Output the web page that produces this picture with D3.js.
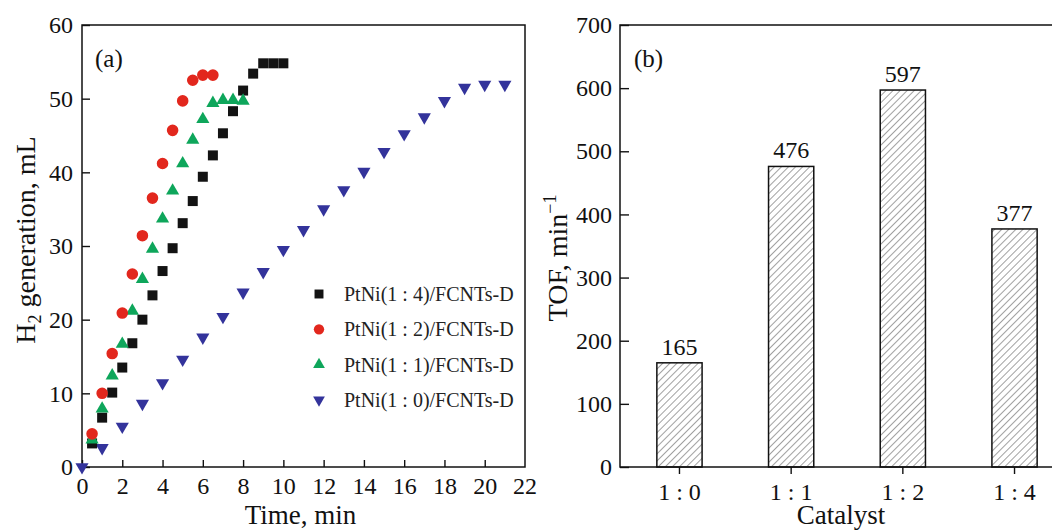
<!DOCTYPE html>
<html>
<head>
<meta charset="utf-8">
<script src="https://cdn.jsdelivr.net/npm/d3@7"></script>
<style>
  body { margin: 0; background: #fff; }
  svg { display: block; font-family: "Liberation Serif", "Times New Roman", serif; }
</style>
</head>
<body>
<svg id="chart" width="1052" height="531"></svg>
<script>
// ---- data ----
// (a) H2 generation vs time
const seriesNames = ['PtNi(1 : 4)/FCNTs-D', 'PtNi(1 : 2)/FCNTs-D', 'PtNi(1 : 1)/FCNTs-D', 'PtNi(1 : 0)/FCNTs-D'];

const timePtNi14 = [0.5, 1, 1.5, 2, 2.5, 3, 3.5, 4, 4.5, 5, 5.5, 6, 6.5, 7, 7.5, 8, 8.5, 9, 9.5, 10];
const h2PtNi14 = [3.2, 6.7, 10.1, 13.5, 16.8, 20.0, 23.3, 26.6, 29.7, 33.1, 36.1, 39.4, 42.3, 45.3, 48.3, 51.1, 53.4, 54.8, 54.8, 54.8];

const timePtNi12 = [0.5, 1, 1.5, 2, 2.5, 3, 3.5, 4, 4.5, 5, 5.5, 6, 6.5];
const h2PtNi12 = [4.5, 10.0, 15.4, 20.9, 26.2, 31.4, 36.5, 41.2, 45.7, 49.7, 52.5, 53.2, 53.2];

const timePtNi11 = [0.5, 1, 1.5, 2, 2.5, 3, 3.5, 4, 4.5, 5, 5.5, 6, 6.5, 7, 7.5, 8];
const h2PtNi11 = [3.7, 7.9, 12.4, 16.7, 21.2, 25.5, 29.6, 33.7, 37.5, 41.2, 44.4, 47.2, 49.4, 49.8, 49.8, 49.7];

const timePtNi10 = [0, 1, 2, 3, 4, 5, 6, 7, 8, 9, 10, 11, 12, 13, 14, 15, 16, 17, 18, 19, 20, 21];
const h2PtNi10 = [0, 2.6, 5.5, 8.6, 11.4, 14.6, 17.6, 20.4, 23.7, 26.5, 29.5, 32.2, 35.0, 37.6, 40.1, 42.8, 45.2, 47.5, 49.7, 51.5, 51.9, 51.9];

const xTicksA = [0, 2, 4, 6, 8, 10, 12, 14, 16, 18, 20, 22];
const yTicksA = [0, 10, 20, 30, 40, 50, 60];

// (b) TOF per catalyst
const catalysts = ['1 : 0', '1 : 1', '1 : 2', '1 : 4'];
const tofValues = [165, 476, 597, 377];
const yTicksB = [0, 100, 200, 300, 400, 500, 600, 700];

// ---- drawing ----
const svg = d3.select('#chart');
const tickFont = 24;

// hatch pattern for the bars
svg.append('defs').append('pattern')
  .attr('id', 'hatch')
  .attr('patternUnits', 'userSpaceOnUse')
  .attr('width', 5)
  .attr('height', 5)
  .attr('patternTransform', 'rotate(45)')
  .append('line')
  .attr('x1', 0).attr('y1', 0)
  .attr('x2', 0).attr('y2', 5)
  .attr('stroke', '#444')
  .attr('stroke-width', 1);

function styleAxis(g) {
  g.select('.domain').remove();
  g.selectAll('line').attr('stroke', '#111').attr('stroke-width', 1.4);
  g.selectAll('text')
    .attr('fill', '#111')
    .style('font-family', '"Liberation Serif", "Times New Roman", serif')
    .style('font-size', tickFont + 'px');
}

// ===== panel (a) =====
const a = { left: 82, right: 525, top: 25, bottom: 467 };

const xA = d3.scaleLinear().domain([0, 22]).range([a.left, a.right]);
const yA = d3.scaleLinear().domain([0, 60]).range([a.bottom, a.top]);

svg.append('g')
  .attr('transform', `translate(0,${a.bottom})`)
  .call(d3.axisBottom(xA).tickValues(xTicksA.slice(0, -1)).tickSizeInner(-7).tickSizeOuter(0).tickPadding(10))
  .call(styleAxis);

// the last "22" label sits on the right border, no tick there
svg.append('text')
  .attr('x', xA(22)).attr('y', a.bottom + 10).attr('dy', '0.71em')
  .attr('text-anchor', 'middle')
  .style('font-size', tickFont + 'px').attr('fill', '#111')
  .text(xTicksA[xTicksA.length - 1]);

svg.append('g')
  .attr('transform', `translate(${a.left},0)`)
  .call(d3.axisLeft(yA).tickValues(yTicksA).tickSizeInner(-8).tickSizeOuter(0).tickPadding(9))
  .call(styleAxis);

svg.append('rect')
  .attr('x', a.left).attr('y', a.top)
  .attr('width', a.right - a.left).attr('height', a.bottom - a.top)
  .attr('fill', 'none').attr('stroke', '#111').attr('stroke-width', 1.5);

const seriesA = [
  { name: seriesNames[0], t: timePtNi14, v: h2PtNi14, shape: d3.symbolSquare, size: 100, rot: 0, color: '#131313' },
  { name: seriesNames[1], t: timePtNi12, v: h2PtNi12, shape: d3.symbolCircle, size: 105, rot: 0, color: '#e2271d' },
  { name: seriesNames[2], t: timePtNi11, v: h2PtNi11, shape: d3.symbolTriangle, size: 75, rot: 0, color: '#0ea65b' },
  { name: seriesNames[3], t: timePtNi10, v: h2PtNi10, shape: d3.symbolTriangle, size: 75, rot: 180, color: '#33339b' }
];

const plotA = svg.append('g');
// draw the blue series first so the others sit on top, as in the figure
[3, 0, 2, 1].forEach(i => {
  const s = seriesA[i];
  const sym = d3.symbol().type(s.shape).size(s.size);
  plotA.append('g')
    .selectAll('path')
    .data(s.t.map((t, j) => [t, s.v[j]]))
    .join('path')
    .attr('d', sym)
    .attr('transform', d => `translate(${xA(d[0])},${yA(d[1])}) rotate(${s.rot})`)
    .attr('fill', s.color);
});

// legend
const legend = svg.append('g').attr('transform', 'translate(319,294)');
seriesA.forEach((s, i) => {
  const row = legend.append('g').attr('transform', `translate(0,${i * 35.3})`);
  row.append('path')
    .attr('d', d3.symbol().type(s.shape).size(s.size * 0.8))
    .attr('transform', `rotate(${s.rot})`)
    .attr('fill', s.color);
  row.append('text')
    .attr('x', 25).attr('y', 7)
    .style('font-size', '20px').attr('fill', '#222')
    .text(s.name);
});

svg.append('text')
  .attr('x', 95).attr('y', 67)
  .style('font-size', '25px').attr('fill', '#111')
  .text('(a)');

// axis titles sit at the very bottom edge, kept just inside it
svg.append('text')
  .attr('x', (a.left + a.right) / 2 - 3).attr('y', 524)
  .attr('text-anchor', 'middle')
  .style('font-size', '27px').attr('fill', '#111')
  .text('Time, min');

const yTitleA = svg.append('text')
  .attr('transform', 'translate(35,240) rotate(-90)')
  .attr('text-anchor', 'middle')
  .style('font-size', '28px').attr('fill', '#111');
yTitleA.append('tspan').text('H');
yTitleA.append('tspan').attr('dy', 6).style('font-size', '18px').text('2');
yTitleA.append('tspan').attr('dy', -6).text(' generation, mL');

// ===== panel (b) =====
const b = { left: 620, right: 1074, top: 25, bottom: 467 };

const xB = d3.scaleBand().domain(catalysts).range([b.left, b.right])
  .paddingInner(0.595).paddingOuter(0.33);
const yB = d3.scaleLinear().domain([0, 700]).range([b.bottom, b.top]);

svg.append('g')
  .attr('transform', `translate(0,${b.bottom})`)
  .call(d3.axisBottom(xB).tickSizeInner(7).tickSizeOuter(0).tickPadding(9))
  .call(styleAxis);

svg.append('g')
  .attr('transform', `translate(${b.left},0)`)
  .call(d3.axisLeft(yB).tickValues(yTicksB).tickSizeInner(-9).tickSizeOuter(0).tickPadding(8))
  .call(styleAxis);

svg.append('rect')
  .attr('x', b.left).attr('y', b.top)
  .attr('width', b.right - b.left).attr('height', b.bottom - b.top)
  .attr('fill', 'none').attr('stroke', '#111').attr('stroke-width', 1.5);

const barData = catalysts.map((c, i) => ({ c, v: tofValues[i] }));

svg.append('g')
  .selectAll('rect')
  .data(barData)
  .join('rect')
  .attr('x', d => xB(d.c))
  .attr('y', d => yB(d.v))
  .attr('width', xB.bandwidth())
  .attr('height', d => yB(0) - yB(d.v))
  .attr('fill', 'url(#hatch)')
  .attr('stroke', '#111')
  .attr('stroke-width', 1.5);

svg.append('g')
  .selectAll('text')
  .data(barData)
  .join('text')
  .attr('x', d => xB(d.c) + xB.bandwidth() / 2)
  .attr('y', d => yB(d.v) - 8)
  .attr('text-anchor', 'middle')
  .style('font-size', tickFont + 'px').attr('fill', '#111')
  .text(d => d.v);

svg.append('text')
  .attr('x', 634).attr('y', 67)
  .style('font-size', '25px').attr('fill', '#111')
  .text('(b)');

svg.append('text')
  .attr('x', 841).attr('y', 524)
  .attr('text-anchor', 'middle')
  .style('font-size', '27px').attr('fill', '#111')
  .text('Catalyst');

const yTitleB = svg.append('text')
  .attr('transform', 'translate(567,258) rotate(-90)')
  .attr('text-anchor', 'middle')
  .style('font-size', '28px').attr('fill', '#111');
yTitleB.append('tspan').text('TOF, min');
yTitleB.append('tspan').attr('dy', -11).style('font-size', '18px').text('\u22121');
</script>
</body>
</html>
